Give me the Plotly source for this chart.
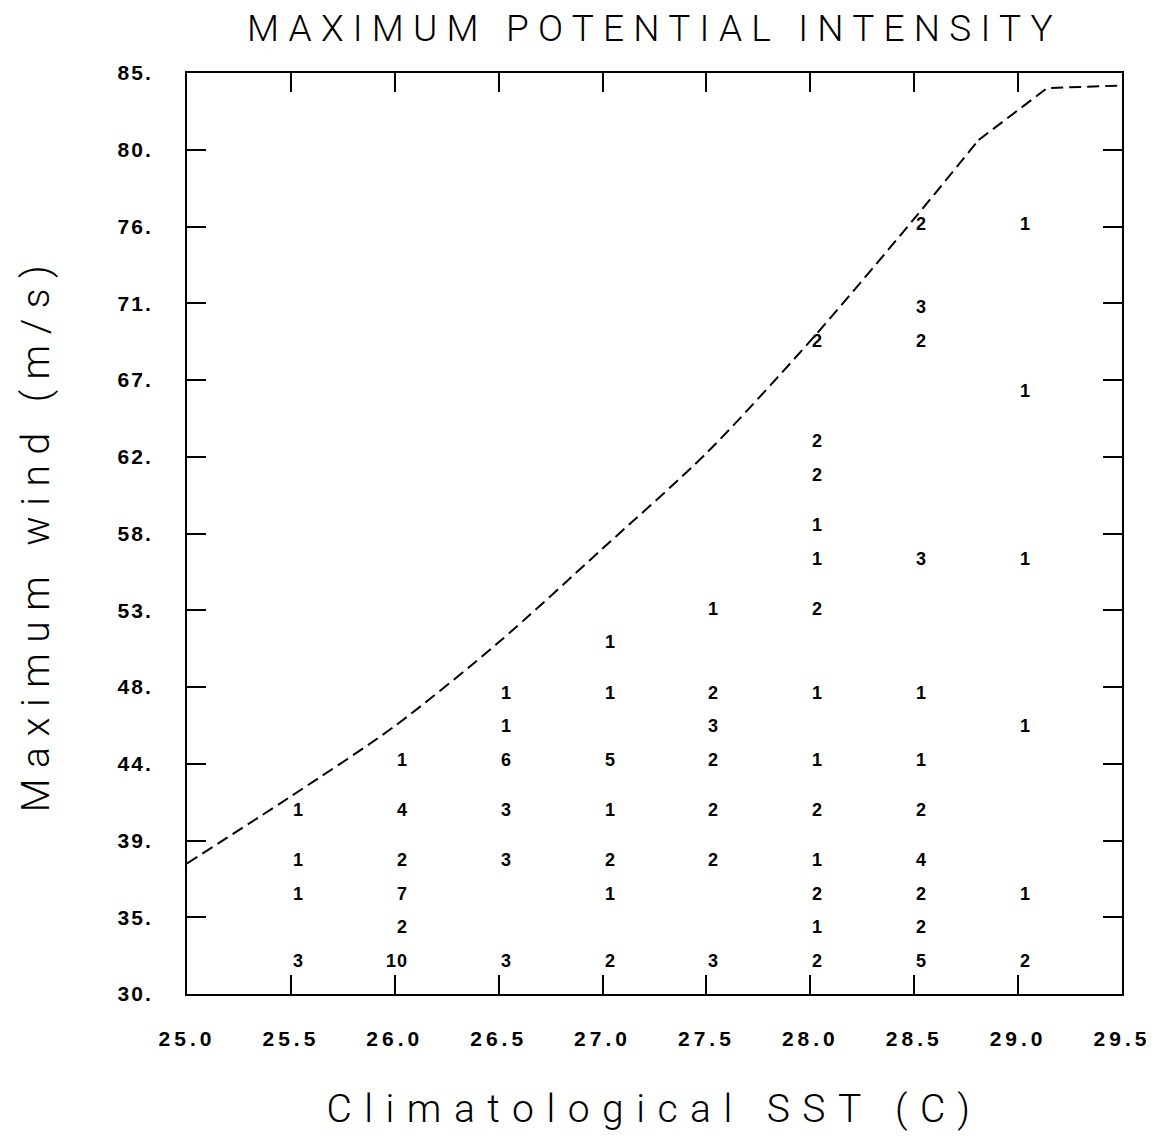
import plotly.graph_objects as go

# Axis tick labels
sst_ticks = [25.0, 25.5, 26.0, 26.5, 27.0, 27.5, 28.0, 28.5, 29.0, 29.5]
sst_tick_text = ["25.0", "25.5", "26.0", "26.5", "27.0", "27.5", "28.0", "28.5", "29.0", "29.5"]
wind_tick_text = ["30.", "35.", "39.", "44.", "48.", "53.", "58.", "62.", "67.", "71.", "76.", "80.", "85."]
wind_min, wind_max = 30.0, 85.0

# Storm counts binned by climatological SST (C) and maximum wind (m/s)
count_sst = (
    [25.5] * 4
    + [26.0] * 6
    + [26.5] * 6
    + [27.0] * 7
    + [27.5] * 7
    + [28.0] * 13
    + [28.5] * 11
    + [29.0] * 6
)
count_wind = (
    [41, 38, 36, 32]
    + [44, 41, 38, 36, 34, 32]
    + [48, 46, 44, 41, 38, 32]
    + [51, 48, 44, 41, 38, 36, 32]
    + [53, 48, 46, 44, 41, 38, 32]
    + [69, 63, 61, 58, 56, 53, 48, 44, 41, 38, 36, 34, 32]
    + [76, 71, 69, 56, 48, 44, 41, 38, 36, 34, 32]
    + [76, 66, 56, 46, 36, 32]
)
count_n = (
    [1, 1, 1, 3]
    + [1, 4, 2, 7, 2, 10]
    + [1, 1, 6, 3, 3, 3]
    + [1, 1, 5, 1, 2, 1, 2]
    + [1, 2, 3, 2, 2, 2, 3]
    + [2, 2, 2, 1, 1, 2, 1, 1, 2, 1, 2, 1, 2]
    + [2, 3, 2, 3, 1, 1, 2, 4, 2, 2, 5]
    + [1, 1, 1, 1, 1, 2]
)

# Maximum potential intensity curve
mpi_sst = [25.0, 25.5, 26.0, 26.5, 27.0, 27.5, 28.0, 28.5, 28.81]
mpi_wind = [37.8, 41.8, 46.0, 51.0, 56.6, 62.3, 69.0, 76.3, 81.0]
cap_sst = [28.81, 29.14, 29.5]
cap_wind = [81.0, 84.1, 84.25]


def spaced(text, px):
    return f'<span style="letter-spacing:{px}px">{text}</span>'


n_ticks = len(wind_tick_text)
wind_ticks = [wind_min + i * (wind_max - wind_min) / (n_ticks - 1) for i in range(n_ticks)]

curve_line = dict(color="black", width=2, dash="12px,6px")

fig = go.Figure()
fig.add_trace(go.Scatter(
    x=mpi_sst, y=mpi_wind, mode="lines",
    line=dict(curve_line, shape="spline", smoothing=0.8),
    showlegend=False, hoverinfo="skip",
))
fig.add_trace(go.Scatter(
    x=cap_sst, y=cap_wind, mode="lines", line=curve_line,
    showlegend=False, hoverinfo="skip",
))

for xs, ys, n in zip(count_sst, count_wind, count_n):
    fig.add_annotation(
        x=xs, y=ys, xref="x", yref="y", text=spaced(str(n), 1), showarrow=False,
        xanchor="right", yanchor="middle", xshift=13, borderpad=0, borderwidth=0,
        font=dict(family="Liberation Sans", size=18, color="black", weight="bold"),
    )

tick_font = dict(family="Liberation Sans", size=21, color="black", weight="bold")
title_font = dict(family="Roboto", size=37, color="black", weight=300)
axis_title_font = dict(family="Roboto", size=39, color="black", weight=300)

fig.update_layout(
    width=1165, height=1144,
    margin=dict(l=187, r=43, t=73, b=150),
    paper_bgcolor="white", plot_bgcolor="white",
    title=dict(
        text=spaced("MAXIMUM POTENTIAL INTENSITY", 9.2),
        font=title_font, x=0.5, xref="paper", xanchor="center",
        y=1 - 28 / 1144, yref="container", yanchor="middle",
    ),
    xaxis=dict(
        range=[25.0, 29.5], tickmode="array", tickvals=sst_ticks,
        ticktext=[spaced(t, 4) for t in sst_tick_text],
        ticks="inside", ticklen=19, tickwidth=2, tickcolor="black",
        showline=True, linewidth=2, linecolor="black", mirror="ticks",
        showgrid=False, zeroline=False, tickfont=tick_font, ticklabelstandoff=25,
        title=dict(text=spaced("Climatological SST (C)", 12.5), font=axis_title_font, standoff=45),
    ),
    yaxis=dict(
        range=[wind_min, wind_max], tickmode="array", tickvals=wind_ticks,
        ticktext=[spaced(t, 2) for t in wind_tick_text],
        ticks="inside", ticklen=19, tickwidth=2, tickcolor="black",
        showline=True, linewidth=2, linecolor="black", mirror="ticks",
        showgrid=False, zeroline=False, tickfont=tick_font, ticklabelstandoff=28,
        title=dict(text=spaced("Maximum wind (m/s)", 10.5), font=axis_title_font, standoff=56),
    ),
)

fig.write_html("out.html")
